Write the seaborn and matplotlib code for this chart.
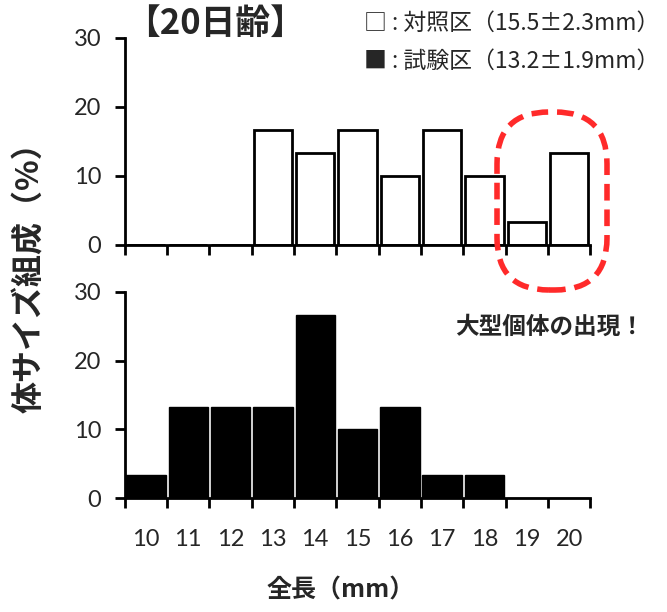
from matplotlib import pyplot as plt
from matplotlib.patches import FancyBboxPatch
import numpy as np
import pandas as pd
import seaborn as sns

sizes = ["10", "11", "12", "13", "14", "15", "16", "17", "18", "19", "20"]
control = [0, 0, 0, 16.7, 13.3, 16.7, 10.0, 16.7, 10.0, 3.3, 13.3]
trial = [3.3, 13.3, 13.3, 13.3, 26.7, 10.0, 13.3, 3.3, 3.3, 0, 0]

sns.set_style("white")
plt.rcParams["font.family"] = ["Lato", "Noto Sans CJK JP", "DejaVu Sans"]

df_c = pd.DataFrame({"size": sizes, "pct": control})
df_t = pd.DataFrame({"size": sizes, "pct": trial})

fig = plt.figure(figsize=(6.67, 6.12), dpi=100)
ax1 = fig.add_axes([0.187, 0.600, 0.698, 0.338])
ax2 = fig.add_axes([0.187, 0.186, 0.698, 0.337])

sns.barplot(data=df_c, x="size", y="pct", color="white", edgecolor="black",
            linewidth=2, width=0.9, saturation=1, ax=ax1)
sns.barplot(data=df_t, x="size", y="pct", color="black", edgecolor="black",
            linewidth=1, width=0.93, saturation=1, ax=ax2)

for ax in (ax1, ax2):
    ax.set_xlim(-0.5, 10.5)
    ax.set_ylim(0, 30)
    ax.set_yticks([0, 10, 20, 30])
    ax.set_xticks(np.arange(-0.5, 11, 1))
    ax.set_xticklabels([])
    ax.set_xlabel("")
    ax.set_ylabel("")
    for s in ["top", "right"]:
        ax.spines[s].set_visible(False)
    for s in ["left", "bottom"]:
        ax.spines[s].set_linewidth(2)
        ax.spines[s].set_color("black")
    ax.tick_params(axis="both", which="major", direction="out", length=7,
                   width=2, color="black", labelsize=17, pad=10,
                   bottom=True, left=True)

ax2.set_xticks(np.arange(0, 11), minor=True)
ax2.set_xticklabels(sizes, minor=True)
ax2.tick_params(axis="x", which="minor", length=0, labelsize=17, pad=22)

fig.text(0.045, 0.56, "体サイズ組成（%）", rotation=90, ha="center", va="center",
         fontsize=23, fontweight="bold", family=["Noto Sans CJK JP"])
fig.text(0.51, 0.035, "全長（mm）", ha="center", va="center",
         fontsize=18, fontweight="bold", family=["Noto Sans CJK JP"])
fig.text(0.322, 0.962, "【20日齢】", ha="center", va="center",
         fontsize=25, fontweight="bold", family=["Noto Sans CJK JP"])
fig.text(0.545, 0.962, "□ : 対照区（15.5±2.3mm）", ha="left", va="center",
         fontsize=16.5, family=["Noto Sans CJK JP", "DejaVu Sans"])
fig.text(0.545, 0.900, "■ : 試験区（13.2±1.9mm）", ha="left", va="center",
         fontsize=16.5, family=["Noto Sans CJK JP", "DejaVu Sans"])
fig.text(0.683, 0.466, "大型個体の出現！", ha="left", va="center",
         fontsize=17, fontweight="bold", family=["Noto Sans CJK JP"])

box = FancyBboxPatch((4.97, 3.22), 1.10, 1.78,
                     boxstyle="round,pad=0,rounding_size=0.52",
                     transform=fig.dpi_scale_trans, fill=False,
                     edgecolor="#ff2a2a", linewidth=4, linestyle=(0, (3, 1.6)),
                     clip_on=False)
fig.patches.append(box)

fig.savefig("out.png", dpi=100)
